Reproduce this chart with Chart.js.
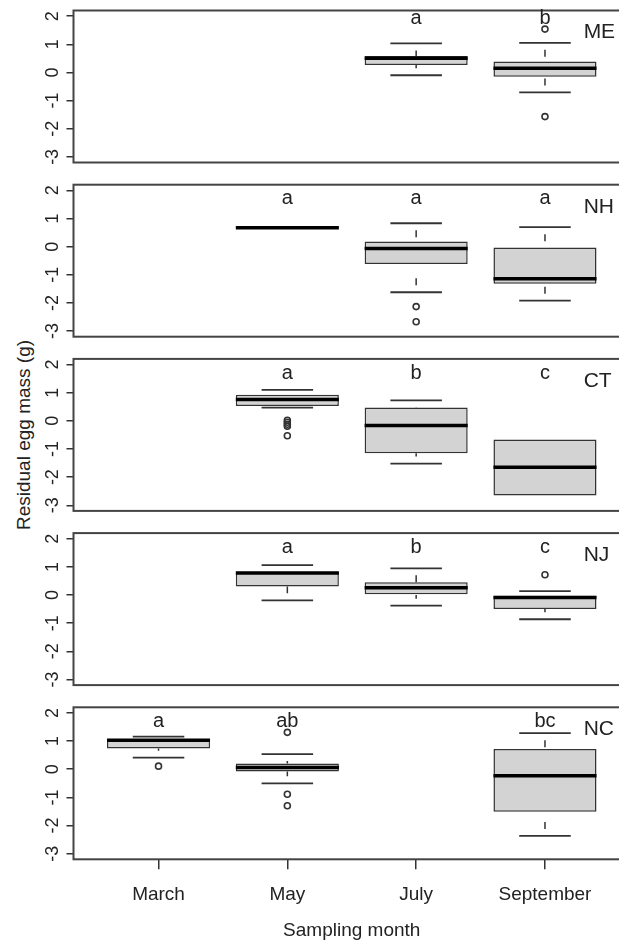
<!DOCTYPE html>
<html><head><meta charset="utf-8">
<script src="https://cdn.jsdelivr.net/npm/chart.js@4.4.0/dist/chart.umd.min.js"></script>
<style>
html,body{margin:0;padding:0;background:#fff;}
#wrap{position:relative;width:619px;height:940px;overflow:hidden;background:#fff;}
#wrap canvas{position:absolute;left:0;}
#ytitle{position:absolute;left:24px;top:435px;transform:translate(-50%,-50%) rotate(-90deg);white-space:nowrap;font:19px "Liberation Sans",Arial,sans-serif;color:#222;}
</style></head><body>
<div id="wrap"><div id="ytitle">Residual egg mass (g)</div></div>
<script>
// ---------- data ----------
const sites = ['ME', 'NH', 'CT', 'NJ', 'NC'];
const months = ['March', 'May', 'July', 'September'];
const yTicks = [-3, -2, -1, 0, 1, 2];

// rows = sites, columns = months (March, May, July, September)
const whiskerLow = [
  [null, null, -0.10, -0.71],
  [null, 0.67, -1.62, -1.92],
  [null, 0.47, -1.52, -2.65],
  [null, -0.19, -0.38, -0.86],
  [0.41, -0.50, null, -2.37]
];
const boxQ1 = [
  [null, null, 0.26, -0.15],
  [null, 0.67, -0.62, -1.32],
  [null, 0.53, -1.15, -2.65],
  [null, 0.30, 0.00, -0.50],
  [0.74, -0.08, null, -1.51]
];
const boxMedian = [
  [null, null, 0.50, 0.15],
  [null, 0.67, -0.07, -1.14],
  [null, 0.76, -0.17, -1.65],
  [null, 0.78, 0.26, -0.09],
  [1.03, 0.06, null, -0.23]
];
const boxQ3 = [
  [null, null, 0.58, 0.39],
  [null, 0.67, 0.18, 0.00],
  [null, 0.93, 0.47, -0.66],
  [null, 0.83, 0.45, 0.00],
  [1.06, 0.20, null, 0.72]
];
const whiskerHigh = [
  [null, null, 1.03, 1.05],
  [null, 0.67, 0.83, 0.69],
  [null, 1.10, 0.73, -0.66],
  [null, 1.06, 0.95, 0.14],
  [1.16, 0.54, null, 1.28]
];
const groupLetters = [
  [null, null, 'a', 'b'],
  [null, 'a', 'a', 'a'],
  [null, 'a', 'b', 'c'],
  [null, 'a', 'b', 'c'],
  ['a', 'ab', null, 'bc']
];
// outliers: [month number (1 = March), value]
const outliersME = [[4, 1.54], [4, -1.57]];
const outliersNH = [[3, -2.13], [3, -2.67]];
const outliersCT = [[2, 0.02], [2, -0.05], [2, -0.12], [2, -0.19], [2, -0.53]];
const outliersNJ = [[4, 0.72]];
const outliersNC = [[1, 0.11], [2, 1.31], [2, -0.89], [2, -1.30]];
const outliers = [outliersME, outliersNH, outliersCT, outliersNJ, outliersNC];

// ---------- layout / style ----------
const FONT = '"Liberation Sans", Arial, sans-serif';
const TEXT = '#222';
const LINE = '#333';
const letterBase = [1.72, 1.5, 1.5, 1.5, 1.5];   // text baseline (data units)
const siteLabelX = 4.3, siteLabelBase = 1.21;
const canvasTop = [0, 174, 348, 522, 696];
const padTop = [10.5, 10.7, 10.9, 11.1, 11.3];
const plotH = 152;
const CANVAS_W = 660;

Chart.defaults.font.family = FONT;
Chart.defaults.color = TEXT;

function strokeLine(ctx, x1, y1, x2, y2) {
  ctx.beginPath(); ctx.moveTo(x1, y1); ctx.lineTo(x2, y2); ctx.stroke();
}

function boxPlugin(si) {
  return {
    id: 'boxdecor' + si,
    afterDatasetsDraw(chart) {
      const ctx = chart.ctx, xs = chart.scales.x, ys = chart.scales.y;
      const unit = xs.getPixelForValue(2) - xs.getPixelForValue(1);
      const boxHalf = unit * 0.4, capHalf = unit * 0.2;
      ctx.save();
      ctx.lineCap = 'butt';
      for (let m = 0; m < months.length; m++) {
        const med = boxMedian[si][m];
        if (med === null) continue;
        const x = xs.getPixelForValue(m + 1);
        const yq1 = ys.getPixelForValue(boxQ1[si][m]);
        const yq3 = ys.getPixelForValue(boxQ3[si][m]);
        const ylo = ys.getPixelForValue(whiskerLow[si][m]);
        const yhi = ys.getPixelForValue(whiskerHigh[si][m]);
        // dashed whisker, drawn from the cap toward the box
        ctx.strokeStyle = LINE; ctx.lineWidth = 1.5;
        ctx.setLineDash([0, 7, 7, 1000]);
        if (yhi < yq3 - 1) strokeLine(ctx, x, yhi, x, yq3);
        if (ylo > yq1 + 1) strokeLine(ctx, x, ylo, x, yq1);
        ctx.setLineDash([]);
        ctx.lineWidth = 1.8;
        if (yhi < yq3 - 1) strokeLine(ctx, x - capHalf, yhi, x + capHalf, yhi);
        if (ylo > yq1 + 1) strokeLine(ctx, x - capHalf, ylo, x + capHalf, ylo);
        ctx.strokeStyle = '#000'; ctx.lineWidth = 3.5;
        const ym = ys.getPixelForValue(med);
        strokeLine(ctx, x - boxHalf, ym, x + boxHalf, ym);
      }
      ctx.restore();
    },
    afterDraw(chart) {
      const ctx = chart.ctx, xs = chart.scales.x, ys = chart.scales.y, ca = chart.chartArea;
      ctx.save();
      // frame
      ctx.strokeStyle = '#444'; ctx.lineWidth = 2;
      ctx.strokeRect(ca.left, ca.top, ca.right - ca.left, ca.bottom - ca.top);
      // letters
      ctx.fillStyle = TEXT;
      ctx.font = '20px ' + FONT;
      ctx.textAlign = 'center'; ctx.textBaseline = 'alphabetic';
      for (let m = 0; m < months.length; m++) {
        const L = groupLetters[si][m];
        if (!L) continue;
        ctx.fillText(L, xs.getPixelForValue(m + 1), ys.getPixelForValue(letterBase[si]));
      }
      // site label
      ctx.font = '21px ' + FONT;
      ctx.textAlign = 'left';
      ctx.fillText(sites[si], xs.getPixelForValue(siteLabelX), ys.getPixelForValue(siteLabelBase));
      // rotated y tick labels
      ctx.font = '18px ' + FONT;
      ctx.textAlign = 'center'; ctx.textBaseline = 'middle';
      for (const v of yTicks) {
        ctx.save();
        ctx.translate(53, ys.getPixelForValue(v));
        ctx.rotate(-Math.PI / 2);
        ctx.fillText(String(v), 0, 0);
        ctx.restore();
      }
      ctx.restore();
    }
  };
}

const wrap = document.getElementById('wrap');
sites.forEach((site, si) => {
  const last = si === sites.length - 1;
  const H = last ? 260 : 174;
  const cv = document.createElement('canvas');
  cv.width = CANVAS_W; cv.height = H;
  cv.style.width = CANVAS_W + 'px'; cv.style.height = H + 'px';
  cv.style.top = canvasTop[si] + 'px';
  wrap.appendChild(cv);

  const bars = [];
  for (let m = 0; m < months.length; m++) {
    if (boxQ1[si][m] === null) continue;
    bars.push({ x: m + 1, y: [boxQ1[si][m], boxQ3[si][m]] });
  }
  const pts = outliers[si].map(o => ({ x: o[0], y: o[1] }));
  const bottomPad = last ? 0 : H - padTop[si] - plotH;
  const xAxisH = H - padTop[si] - plotH;

  new Chart(cv, {
    type: 'bar',
    data: {
      datasets: [
        {
          type: 'bar', data: bars,
          backgroundColor: '#d3d3d3', borderColor: LINE, borderWidth: 1.5,
          borderSkipped: false, barPercentage: 0.8, categoryPercentage: 1.0
        },
        {
          type: 'line', data: pts, showLine: false,
          pointRadius: 3, pointBorderWidth: 1.6, pointStyle: 'circle',
          pointBorderColor: LINE, pointBackgroundColor: 'rgba(0,0,0,0)'
        }
      ]
    },
    options: {
      responsive: false, animation: false,
      layout: { padding: { top: padTop[si], right: CANVAS_W - 630, bottom: bottomPad, left: 0 } },
      plugins: { legend: { display: false }, tooltip: { enabled: false } },
      scales: {
        x: {
          type: 'linear', min: 0.34, max: 4.66, offset: false,
          display: last,
          afterBuildTicks: s => { s.ticks = months.map((m, i) => ({ value: i + 1 })); },
          afterFit: s => { if (last) s.height = xAxisH; },
          ticks: {
            autoSkip: false, maxRotation: 0, minRotation: 0, padding: 14,
            font: { size: 19 }, color: TEXT,
            callback: v => months[v - 1]
          },
          grid: { display: true, drawOnChartArea: false, drawTicks: true, tickLength: 10, color: LINE, lineWidth: 1.5, offset: false },
          border: { display: false },
          title: { display: true, text: 'Sampling month', font: { size: 19 }, color: TEXT, padding: { top: 0, bottom: 14 } }
        },
        y: {
          min: -3.2, max: 2.2,
          afterBuildTicks: s => { s.ticks = yTicks.map(v => ({ value: v })); },
          afterFit: s => { s.width = 73.5; },
          ticks: { display: false },
          grid: { display: true, drawOnChartArea: false, drawTicks: true, tickLength: 7, color: LINE, lineWidth: 1.5 },
          border: { display: false }
        }
      }
    },
    plugins: [boxPlugin(si)]
  });
});
</script>
</body></html>
